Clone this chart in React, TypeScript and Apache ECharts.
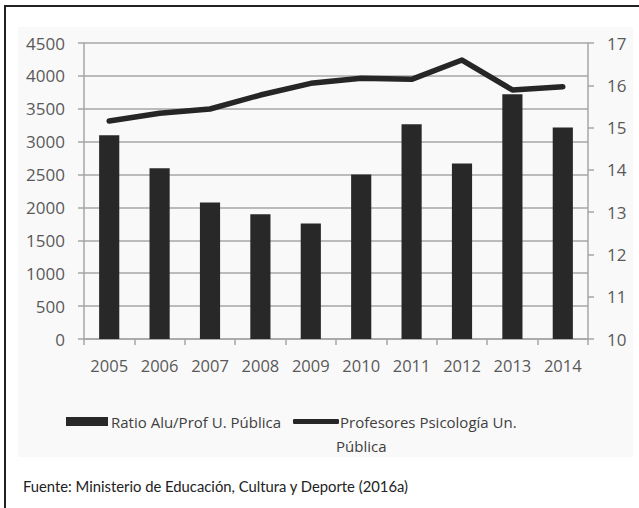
import React, { useEffect, useRef } from "react";
import * as echarts from "echarts";

const years = ["2005", "2006", "2007", "2008", "2009", "2010", "2011", "2012", "2013", "2014"];
const ratioAluProf = [14.82, 14.04, 13.23, 12.95, 12.73, 13.89, 15.08, 14.15, 15.79, 15.0];
const profesoresPsicologia = [3314, 3431, 3497, 3709, 3887, 3963, 3948, 4241, 3786, 3835];
const barName = "Ratio Alu/Prof U. Pública";
const lineName = "Profesores Psicología Un. Pública";
const sourceText = "Fuente: Ministerio de Educación, Cultura y Deporte (2016a)";

const FONT = "'Open Sans', sans-serif";
const LABEL = "#595959";
const GRID = "#a6a6a6";

export default function App() {
  const ref = useRef<HTMLDivElement>(null);
  useEffect(() => {
    document.body.style.margin = "0";
    const chart = echarts.init(ref.current!, undefined, { renderer: "svg" });
    chart.setOption({
      animation: false,
      backgroundColor: "#ffffff",
      textStyle: { fontFamily: FONT },
      graphic: [
        { type: "rect", shape: { x: 18, y: 27, width: 615, height: 430 }, style: { fill: "#f9f9f9" }, z: -10 },
        { type: "line", shape: { x1: 4, y1: 6, x2: 639, y2: 6 }, style: { stroke: "#222", lineWidth: 2 } },
        { type: "line", shape: { x1: 5, y1: 5, x2: 5, y2: 508 }, style: { stroke: "#222", lineWidth: 2 } },
        {
          type: "text",
          left: 336,
          top: 438,
          style: { text: "Pública", fontFamily: FONT, fontSize: 15, fill: "#404040" },
        },
        {
          type: "text",
          left: 23,
          top: 478,
          style: { text: sourceText, fontFamily: "Lato, sans-serif", fontSize: 14.8, fill: "#222" },
        },
      ],
      grid: { left: 84, right: 51, top: 43, bottom: 169, containLabel: false },
      legend: [
        {
          data: [barName],
          left: 61,
          top: 409,
          itemWidth: 42,
          itemHeight: 9,
          itemGap: 0,
          icon: "rect",
          textStyle: { fontFamily: FONT, fontSize: 15, color: "#404040", padding: [0, 0, 0, -2] },
        },
        {
          data: [lineName],
          left: 288,
          top: 409,
          itemWidth: 46,
          itemHeight: 5,
          icon: "roundRect",
          formatter: () => "Profesores Psicología Un.",
          textStyle: { fontFamily: FONT, fontSize: 15, color: "#404040", padding: [0, 0, 0, -4] },
        },
      ],
      xAxis: {
        type: "category",
        data: years,
        boundaryGap: true,
        axisLine: { lineStyle: { color: GRID, width: 1.5 } },
        axisTick: { show: true, length: 6, inside: false, interval: 0, lineStyle: { color: GRID, width: 1.5 } },
        axisLabel: { color: LABEL, fontSize: 16.5, margin: 18, interval: 0, fontFamily: FONT },
      },
      yAxis: [
        {
          type: "value",
          min: 0,
          max: 4500,
          interval: 500,
          position: "left",
          axisLine: { show: true, lineStyle: { color: GRID, width: 1.5 } },
          axisTick: { show: true, length: 6, lineStyle: { color: GRID, width: 1.5 } },
          splitLine: { show: true, lineStyle: { color: GRID, width: 1.5 } },
          axisLabel: { color: LABEL, fontSize: 17, margin: 19, fontFamily: FONT, formatter: (v: number) => String(v) },
        },
        {
          type: "value",
          min: 10,
          max: 17,
          interval: 1,
          position: "right",
          axisLine: { show: true, lineStyle: { color: GRID, width: 1.5 } },
          axisTick: { show: true, length: 6, lineStyle: { color: GRID, width: 1.5 } },
          splitLine: { show: false },
          axisLabel: { color: LABEL, fontSize: 17, margin: 19, fontFamily: FONT, formatter: (v: number) => String(v) },
        },
      ],
      series: [
        {
          name: barName,
          type: "bar",
          yAxisIndex: 1,
          data: ratioAluProf,
          barWidth: "40%",
          clip: true,
          itemStyle: { color: "#282828" },
          z: 2,
        },
        {
          name: lineName,
          type: "line",
          yAxisIndex: 0,
          data: profesoresPsicologia,
          symbol: "none",
          lineStyle: { color: "#262626", width: 5.5, cap: "round", join: "round" },
          itemStyle: { color: "#262626" },
          z: 3,
        },
      ],
    });
    return () => chart.dispose();
  }, []);
  return <div ref={ref} style={{ width: 639, height: 508 }} />;
}
